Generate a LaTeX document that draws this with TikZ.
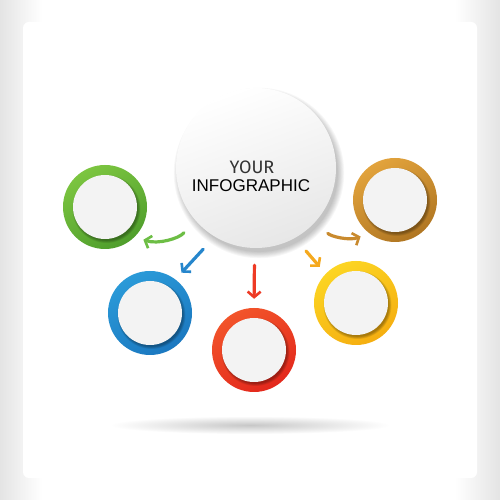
\documentclass[tikz,border=0pt]{standalone}
\usepackage{fontspec}
\setmainfont{Liberation Sans}
\newfontfamily\thinfont{Fira Sans}
\usetikzlibrary{arrows.meta,calc}
\definecolor{bgg}{HTML}{E4E4E4}
\definecolor{disc}{HTML}{F3F3F3}
\definecolor{gL}{HTML}{7CC540}\definecolor{gD}{HTML}{4F9E2C}
\definecolor{bL}{HTML}{2A9AD8}\definecolor{bD}{HTML}{1B78C0}
\definecolor{rL}{HTML}{F2542A}\definecolor{rD}{HTML}{E3281C}
\definecolor{yL}{HTML}{FCD523}\definecolor{yD}{HTML}{F5AE10}
\definecolor{oL}{HTML}{E2A33C}\definecolor{oD}{HTML}{B07622}
\definecolor{gA}{HTML}{6DBE45}\definecolor{bA}{HTML}{2686CC}
\definecolor{rA}{HTML}{EE3A24}\definecolor{yA}{HTML}{F5A91E}
\definecolor{oA}{HTML}{C98A2E}
\tikzset{
  ring/.style args={#1/#2}{circle, minimum size=84pt, inner sep=0pt,
    top color=#1, bottom color=#2, shading angle=30},
  brush/.style={line width=3.2pt, line cap=round,
    -{Straight Barb[length=5.5pt,width=13pt,line width=2.6pt]},
    shorten <=17pt, shorten >=9pt},
}
\begin{document}
\begin{tikzpicture}[x=1pt,y=1pt]
\useasboundingbox (0,0) rectangle (500,500);
% background
\fill[white] (0,0) rectangle (500,500);
\shade[left color=bgg, right color=white] (0,0) rectangle (42,500);
\shade[left color=white, right color=bgg] (455,0) rectangle (500,500);
\fill[white, rounded corners=6pt] (23,22) rectangle (477,478);
% floor shadow
\shade[inner color=black!22, outer color=white] (250,75) ellipse (140 and 9);
% main circle shadow
\foreach \i in {1,...,8}
  \fill[black, opacity=0.03] (259,327) circle ({78+\i*0.9});
\node[circle, minimum size=160pt, inner sep=0pt, top color=white, bottom color=disc!95!black, shading angle=20] (main) at (256,332) {};
\node[font=\thinfont\fontsize{18}{18}\selectfont, text=black!80] (t1) at (252,333) {YOUR};
\node[font=\fontsize{17}{17}\selectfont] (t2) at (251,314) {INFOGRAPHIC};
% rings
\node[ring=gL/gD] (g) at (105,293) {};
\node[ring=bL/bD] (b) at (150,187) {};
\node[ring=rL/rD] (r) at (254,150) {};
\node[ring=yL/yD] (y) at (356,197) {};
\node[ring=oL/oD] (o) at (395,300) {};
\foreach \n in {g,b,r,y,o}{
  \foreach \i in {1,...,5}
    \fill[black, opacity=0.07] ($(\n.center)+(1.5,-2)$) circle ({31+\i*0.6});
  \fill[disc] (\n.center) circle (32);
}
% arrows
\draw[brush, gA] (main.220) to[bend left=35] (g.-45);
\draw[brush, bA] (main.239) -- (b.53);
\draw[brush, rA] (main.269) -- (r.90);
\draw[brush, yA] (main.-61) -- (y.136);
\draw[brush, oA] (main.-41) to[bend right=35] (o.232);
\end{tikzpicture}
\end{document}
